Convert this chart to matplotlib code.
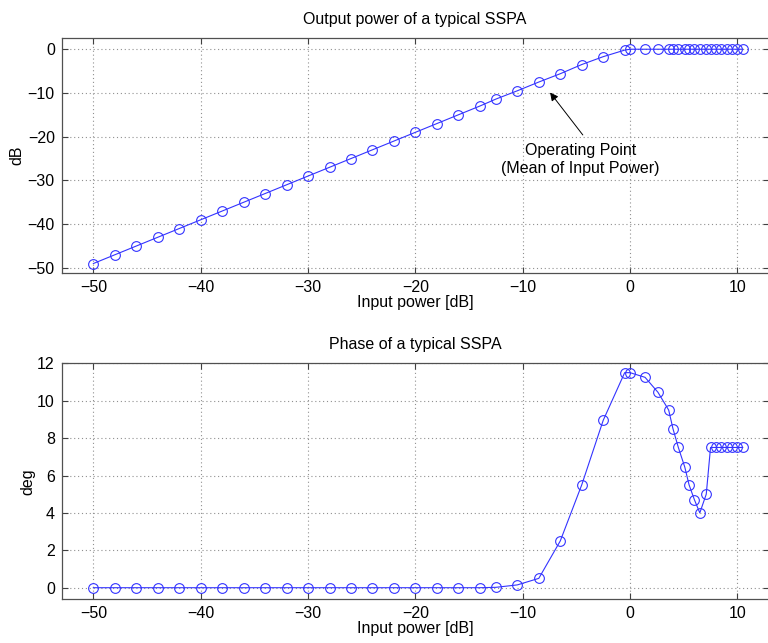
import matplotlib
matplotlib.use("Agg")
import matplotlib.pyplot as plt

plt.rcParams['font.family'] = ['Liberation Sans', 'DejaVu Sans']

# Input power [dB]
input_power = [-50, -48, -46, -44, -42, -40, -38, -36, -34, -32, -30, -28, -26, -24,
               -22, -20, -18, -16, -14, -12.5, -10.5, -8.5, -6.5, -4.5, -2.5, -0.5,
               0, 1.4, 2.6, 3.6, 4.0, 4.5, 5.1, 5.5, 6.0, 6.5, 7.1, 7.5, 8.0, 8.5,
               9.0, 9.5, 10.0, 10.5]

# Output power [dB]
output_power = [-49, -47, -45, -43, -41, -39, -37, -35, -33, -31, -29, -27, -25, -23,
                -21, -19, -17, -15, -13, -11.4, -9.5, -7.5, -5.6, -3.5, -1.7, -0.2,
                0, 0, 0, 0, 0, 0, 0, 0, 0, 0, 0, 0, 0, 0,
                0, 0, 0, 0]

# Phase [deg]
phase = [0, 0, 0, 0, 0, 0, 0, 0, 0, 0, 0, 0, 0, 0,
         0, 0, 0, 0, 0, 0.02, 0.15, 0.5, 2.5, 5.5, 8.95, 11.5,
         11.5, 11.25, 10.45, 9.5, 8.5, 7.5, 6.45, 5.5, 4.7, 4.0, 5.0, 7.5, 7.5, 7.5,
         7.5, 7.5, 7.5, 7.5]

top_title = "Output power of a typical SSPA"
bottom_title = "Phase of a typical SSPA"
xlabel = "Input power [dB]"
annot_text = "Operating Point\n(Mean of Input Power)"
arrow_head = (-7.45, -9.9)
arrow_tail = (-4.4, -19.6)
annot_text_xy = (-4.6, -25.2)

W, H = 768, 643
fig = plt.figure(figsize=(W / 100, H / 100), dpi=100)

def frac(l, t, r, b):
    return [l / W, 1 - b / H, (r - l) / W, (b - t) / H]

ax1 = fig.add_axes(frac(61.7, 38.3, 768.5, 272.7))
ax2 = fig.add_axes(frac(61.7, 363.3, 768.5, 599.3))

line_color = '#3333ff'
fs = 11.5

for ax in (ax1, ax2):
    ax.set_xlim(-52.95, 12.9)
    ax.set_xticks([-50, -40, -30, -20, -10, 0, 10])
    ax.grid(True, linestyle=(0, (1, 2.5)), color='#909090', linewidth=0.8)
    ax.tick_params(direction='in', top=True, right=True, labelsize=fs,
                   length=4, color='#404040', pad=5)
    for s in ax.spines.values():
        s.set_color('#505050')
        s.set_linewidth(0.9)
    ax.set_xlabel(xlabel, fontsize=fs, labelpad=0)

ax1.plot(input_power, output_power, '-o', color=line_color, linewidth=0.8,
         markersize=7, markerfacecolor='none', markeredgewidth=0.8)
ax1.set_ylim(-51.1, 2.5)
ax1.set_yticks([-50, -40, -30, -20, -10, 0])
ax1.set_ylabel("dB", fontsize=fs)
ax1.yaxis.set_label_coords(-0.053, 0.5)
ax1.set_title(top_title, fontsize=fs, pad=10)
ax1.annotate("", xy=arrow_head, xytext=arrow_tail,
             arrowprops=dict(arrowstyle='-|>', color='black', linewidth=0.7,
                             mutation_scale=12, shrinkA=0, shrinkB=0))
ax1.text(annot_text_xy[0], annot_text_xy[1], annot_text, ha='center', va='center',
         fontsize=fs, linespacing=1.2)

ax2.plot(input_power, phase, '-o', color=line_color, linewidth=0.8,
         markersize=7, markerfacecolor='none', markeredgewidth=0.8)
ax2.set_ylim(-0.62, 12.0)
ax2.set_yticks([0, 2, 4, 6, 8, 10, 12])
ax2.set_ylabel("deg", fontsize=fs)
ax2.yaxis.set_label_coords(-0.037, 0.5)
ax2.set_title(bottom_title, fontsize=fs, pad=10)

fig.savefig("out.png", dpi=100)
